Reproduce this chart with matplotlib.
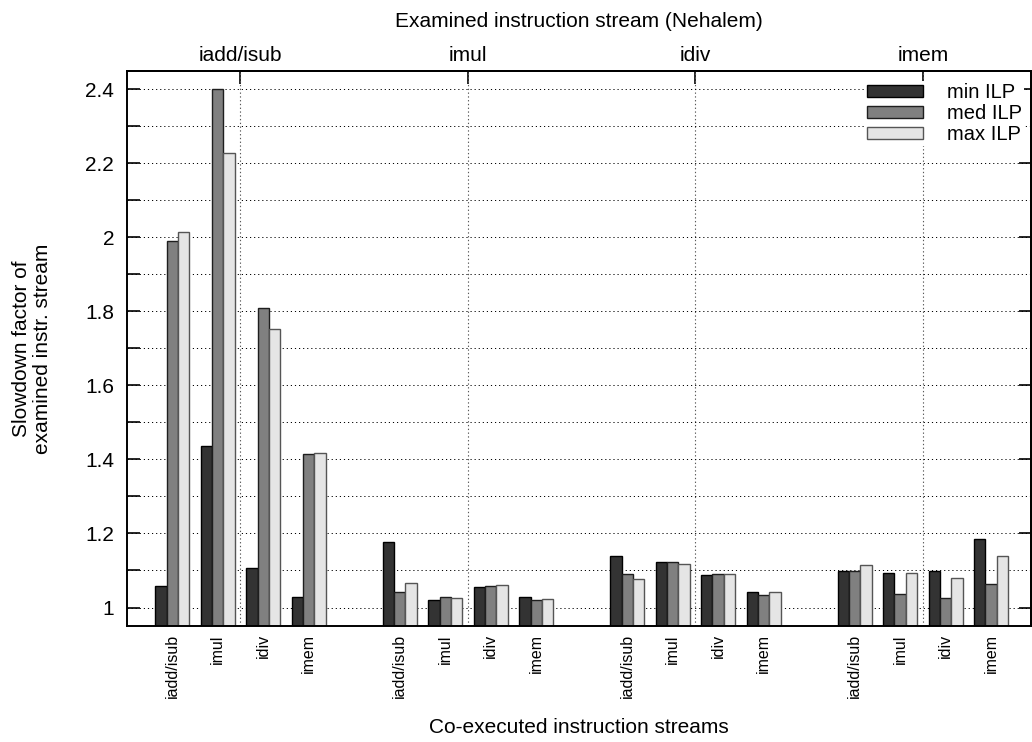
import numpy as np
import matplotlib
matplotlib.use("Agg")
import matplotlib.pyplot as plt
import matplotlib as mpl

mpl.rcParams.update({
    "font.family": ["Liberation Sans", "DejaVu Sans"],
    "font.size": 15,
    "axes.linewidth": 1.4,
})

# co-executed streams (bottom) and examined streams (top) share the same names
streams = ["iadd/isub", "imul", "idiv", "imem"]
series_names = ["min ILP", "med ILP", "max ILP"]

# slowdown factor, one row per examined stream, one column per co-executed stream
min_ilp = [
    [1.057, 1.435, 1.108, 1.029],
    [1.178, 1.021, 1.055, 1.029],
    [1.140, 1.122, 1.089, 1.042],
    [1.099, 1.094, 1.099, 1.186],
]
med_ilp = [
    [1.991, 2.401, 1.810, 1.415],
    [1.042, 1.029, 1.059, 1.019],
    [1.091, 1.122, 1.091, 1.034],
    [1.099, 1.037, 1.027, 1.063],
]
max_ilp = [
    [2.015, 2.228, 1.751, 1.418],
    [1.066, 1.026, 1.061, 1.023],
    [1.076, 1.118, 1.091, 1.041],
    [1.114, 1.094, 1.080, 1.138],
]

fill_colors = ["#333333", "#808080", "#e5e5e5"]
edge_colors = ["#000000", "#1e1e1e", "#555555"]

n_groups = len(streams)
n_clusters = len(streams)
group_step = n_clusters + 1      # one empty cluster slot between groups
bar_w = 0.25

cluster_x = np.array([g * group_step + c for g in range(n_groups) for c in range(n_clusters)], dtype=float)
group_centers = np.array([g * group_step + (n_clusters - 1) / 2 for g in range(n_groups)])

fig = plt.figure(figsize=(10.32, 7.42), dpi=100)
ax = fig.add_axes([0.1228, 0.1563, 0.8762, 0.7484])
ax.set_axisbelow(True)

for i, (vals, name) in enumerate(zip([min_ilp, med_ilp, max_ilp], series_names)):
    heights = np.asarray(vals).ravel()
    ax.bar(
        cluster_x + (i - 1) * bar_w,
        heights - 0.95,
        bottom=0.95,
        width=bar_w,
        color=fill_colors[i],
        edgecolor=edge_colors[i],
        linewidth=1.0,
        label=name,
    )

ax.set_xlim(-1.0, 18.875)
ax.set_ylim(0.95, 2.45)

# y ticks every 0.1, labels only on every second one
yt = np.round(np.arange(1.0, 2.401, 0.1), 1)
ax.set_yticks(yt)
ax.set_yticklabels([f"{v:g}" if round(v * 10) % 2 == 0 else "" for v in yt])
ax.tick_params(axis="y", direction="in", length=9, width=1.2, pad=9)

# bottom labels: co-executed stream per cluster
ax.set_xticks(cluster_x)
ax.set_xticklabels(streams * n_groups, rotation=90, fontsize=11.5)
ax.tick_params(axis="x", which="major", length=0, pad=6)

# vertical grid at the examined-stream centres
ax.set_xticks(group_centers, minor=True)
ax.tick_params(axis="x", which="minor", length=0)
ax.grid(True, axis="x", which="minor", color="0.35", linestyle=(0, (1.2, 2.2)), linewidth=0.8)
ax.grid(True, axis="y", which="major", color="black", linestyle=(0, (1.2, 3.0)), linewidth=0.7)

# top axis: examined instruction stream
top = ax.secondary_xaxis("top")
top.set_xticks(group_centers)
top.set_xticklabels(streams)
top.tick_params(direction="in", length=9, width=1.2, pad=4)
top.set_xlabel("Examined instruction stream (Nehalem)", labelpad=14)

# mirrored ticks on the right at the labelled values only
right = ax.secondary_yaxis("right")
right.set_yticks(yt[::2])
right.set_yticklabels([])
right.tick_params(direction="in", length=9, width=1.2)

ax.set_xlabel("Co-executed instruction streams")
ax.xaxis.set_label_coords(0.5, -0.166)
ax.set_ylabel("Slowdown factor of\nexamined instr. stream", linespacing=1.1)
ax.yaxis.set_label_coords(-0.083, 0.5)

leg = ax.legend(
    loc="upper right",
    bbox_to_anchor=(0.992, 0.982),
    frameon=True,
    fancybox=False,
    facecolor="white",
    edgecolor="none",
    framealpha=1.0,
    fontsize=14.5,
    handlelength=2.75,
    handleheight=0.55,
    handletextpad=1.2,
    labelspacing=0.1,
    borderpad=0.1,
    borderaxespad=0.0,
)

fig.savefig("out.png", dpi=100)
